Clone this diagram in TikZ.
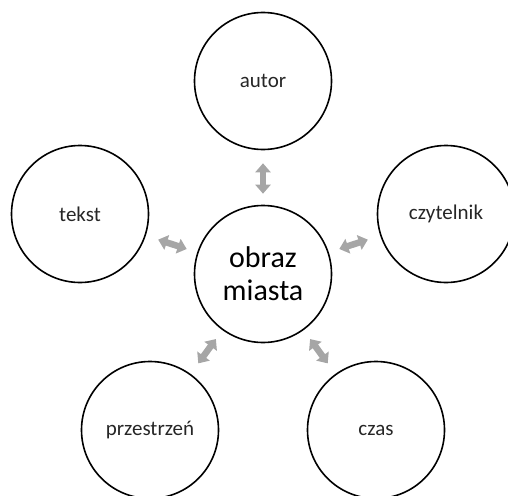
\documentclass[tikz,border=0pt]{standalone}
\usepackage{fontspec}
\setmainfont{Carlito}
\usetikzlibrary{arrows.meta}
\definecolor{arrgray}{HTML}{A6A6A6}
\definecolor{txt}{HTML}{262626}
\tikzset{
  outer/.style={circle,draw=black,line width=1.6pt,minimum size=137pt,inner sep=0pt,
    text=txt,font=\fontsize{21}{25}\selectfont},
  inner/.style={circle,draw=black,line width=1.6pt,minimum size=137pt,inner sep=0pt,
    text=black,align=center,font=\fontsize{30}{33}\selectfont},
  link/.style={arrgray,line width=6.5pt,
    {Triangle[width=15pt,length=9pt]}-{Triangle[width=15pt,length=9pt]},
    shorten <=11pt,shorten >=13pt}
}
\begin{document}
\begin{tikzpicture}[x=1pt,y=-1pt]
\useasboundingbox (0,0) rectangle (508,495);
\clip (0,0) rectangle (508,495);
\node[inner] (c) at (263,274) {obraz\\miasta};
\node[outer] (autor) at (263,81) {autor};
\node[outer] (tekst) at (80,214) {tekst};
\node[outer] (czyt) at (446,214) {czytelnik};
\node[outer] (prz) at (150,430) {przestrzeń};
\node[outer] (czas) at (376,430) {czas};
\draw[link] (c) -- (autor);
\draw[link] (c) -- (tekst);
\draw[link] (c) -- (czyt);
\draw[link] (c) -- (prz);
\draw[link] (c) -- (czas);
\end{tikzpicture}
\end{document}
